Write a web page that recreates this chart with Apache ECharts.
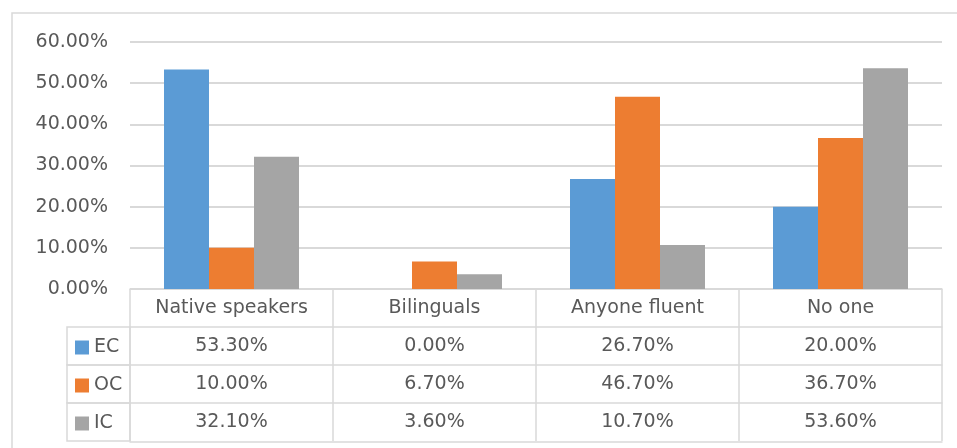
<!DOCTYPE html>
<html>
<head>
<meta charset="utf-8">
<script src="https://cdn.jsdelivr.net/npm/echarts@6/dist/echarts.min.js"></script>
<style>
  html, body { margin: 0; padding: 0; background: #fff; }
  #chart { width: 957px; height: 448px; }
</style>
</head>
<body>
<div id="chart"></div>
<script>
const categories = ['Native speakers', 'Bilinguals', 'Anyone fluent', 'No one'];
const seriesNames = ['EC', 'OC', 'IC'];
const ecValues = [0.533, 0.0, 0.267, 0.2];
const ocValues = [0.1, 0.067, 0.467, 0.367];
const icValues = [0.321, 0.036, 0.107, 0.536];
const colors = ['#5B9BD5', '#ED7D31', '#A5A5A5'];

const allValues = [ecValues, ocValues, icValues];
const TEXT = '#595959';
const LINE = '#d9d9d9';
const FONT = 'DejaVu Sans';
const FONT_SIZE = 19;
const ROW_H = 38;

const pct = (v) => (v * 100).toFixed(2) + '%';

// table rows are extra bottom x-axes stacked under the plot
const tableAxis = (offset, formatter, showLabel) => ({
  type: 'category',
  data: categories,
  position: 'bottom',
  offset: offset,
  gridIndex: 0,
  axisLine: { show: true, lineStyle: { color: LINE, width: 1.5 } },
  axisTick: {
    show: showLabel,
    alignWithLabel: false,
    interval: 0,
    length: ROW_H,
    lineStyle: { color: LINE, width: 1.5 },
  },
  axisLabel: {
    show: showLabel,
    interval: 0,
    margin: 10,
    color: TEXT,
    fontFamily: FONT,
    fontSize: FONT_SIZE,
    formatter: formatter,
  },
  splitLine: { show: false },
});

const xAxes = [
  tableAxis(0, (v) => v, true),
  ...allValues.map((vals, i) => tableAxis(ROW_H * (i + 1), (v, idx) => pct(vals[idx]), true)),
  tableAxis(ROW_H * 4 + 1, () => '', false),
];

const chart = echarts.init(document.getElementById('chart'));

const option = {
  backgroundColor: '#fff',
  animation: false,
  color: colors,
  grid: { left: 130, right: 15, top: 42, bottom: 159 },
  legend: {
    data: seriesNames,
    orient: 'vertical',
    left: 75,
    top: 338,
    padding: 0,
    icon: 'rect',
    itemWidth: 14,
    itemHeight: 14,
    itemGap: 19,
    selectedMode: false,
    textStyle: { color: TEXT, fontFamily: FONT, fontSize: FONT_SIZE, lineHeight: 18, padding: [0, 0, 0, 0] },
  },
  xAxis: xAxes,
  yAxis: {
    type: 'value',
    min: 0,
    max: 0.6,
    interval: 0.1,
    axisLine: { show: false },
    axisTick: { show: false },
    axisLabel: {
      color: TEXT,
      fontFamily: FONT,
      fontSize: FONT_SIZE,
      margin: 22,
      formatter: pct,
    },
    splitLine: { lineStyle: { color: LINE, width: 2 } },
  },
  graphic: [
    {
      type: 'rect',
      shape: { x: 12, y: 13, width: 960, height: 460 },
      style: { fill: 'none', stroke: LINE, lineWidth: 1.5 },
      silent: true,
      z: -1,
    },
    ...seriesNames.map((n, i) => ({
      type: 'rect',
      shape: { x: 67, y: 327 + ROW_H * i, width: 63, height: ROW_H },
      style: { fill: 'none', stroke: LINE, lineWidth: 1.5 },
      silent: true,
    })),
  ],
  series: seriesNames.map((name, i) => ({
    name: name,
    type: 'bar',
    data: allValues[i],
    barGap: '0%',
    barCategoryGap: '33.5%',
    itemStyle: { color: colors[i] },
  })),
};

chart.setOption(option);
</script>
</body>
</html>
